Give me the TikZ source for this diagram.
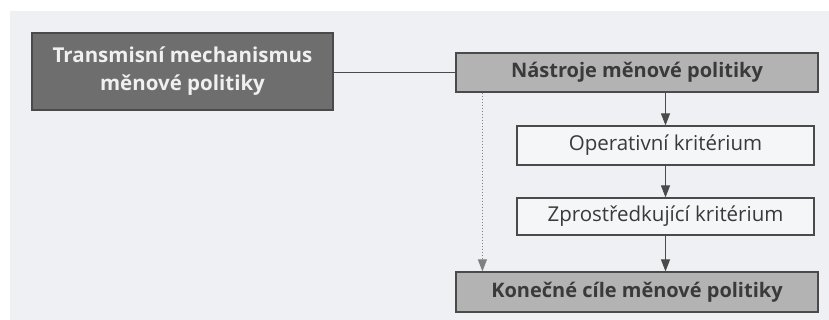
\documentclass[tikz,border=0pt]{standalone}
\usepackage{fontspec}
\setmainfont{Open Sans}
\usetikzlibrary{arrows.meta,calc}
\definecolor{bg}{HTML}{EEF0F3}
\definecolor{dark}{HTML}{6E6E6E}
\definecolor{mid}{HTML}{B3B3B3}
\definecolor{ink}{HTML}{3A3A3A}
\definecolor{edge}{HTML}{4A4A4A}
\tikzset{
  box/.style={draw=edge, line width=1.2pt, inner sep=0pt, anchor=center, text=ink, font=\fontsize{20.5}{24}\selectfont},
  headbox/.style={box, fill=mid, font=\bfseries\fontsize{20}{24}\selectfont},
  plainbox/.style={box, fill=bg!60!white},
  arr/.style={draw=edge, line width=1pt, -{Triangle[length=12pt,width=9pt]}},
  dotarr/.style={draw=edge!70, line width=1pt, dotted, -{Triangle[length=12pt,width=9pt]}}
}
\begin{document}
\begin{tikzpicture}[x=1pt,y=-1pt]
\useasboundingbox (0,0) rectangle (829,320);
\fill[bg] (10,11) rectangle (829,320);
\node[box, fill=dark, text=white!94!black, align=center, minimum width=301pt, minimum height=77pt,
  font=\bfseries\fontsize{20.5}{28}\selectfont] (tm) at (182.5,71.5) {Transmisní mechanismus\\měnové politiky};
\node[headbox, minimum width=362pt, minimum height=39pt] (nas) at (637,72.5) {Nástroje měnové politiky};
\node[plainbox, minimum width=297pt, minimum height=39pt] (op) at (665.5,145.5) {Operativní kritérium};
\node[plainbox, minimum width=297pt, minimum height=37pt] (zp) at (665.5,216.5) {Zprostředkující kritérium};
\node[headbox, minimum width=362pt, minimum height=40pt] (kon) at (637,292) {Konečné cíle měnové politiky};
\draw[draw=edge, line width=1pt] (tm.east |- nas.west) -- (nas.west);
\draw[arr] (nas.south -| op.north) -- (op.north);
\draw[arr] (op.south) -- (zp.north);
\draw[arr] (zp.south) -- (kon.north -| zp.south);
\coordinate (d) at ($(nas.south west)+(27,0)$);
\draw[dotarr] (d) -- (d |- kon.north);
\end{tikzpicture}
\end{document}
